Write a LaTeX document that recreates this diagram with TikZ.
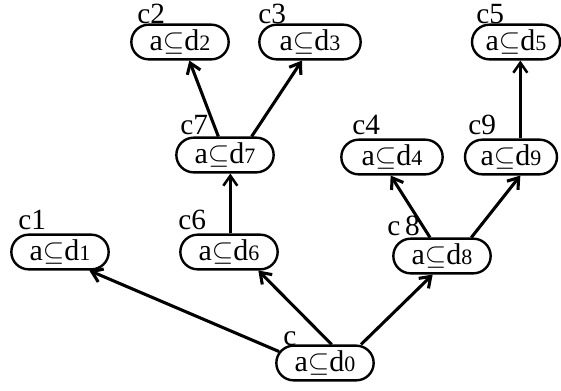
\documentclass[tikz,border=0pt]{standalone}
\usepackage{fontspec}
\setmainfont{Liberation Serif}
\usetikzlibrary{arrows.meta,shapes.misc,positioning}

\newcommand{\incl}[1]{a$\subseteq$d{\fontsize{16.5}{17}\selectfont #1}}

\begin{document}
\begin{tikzpicture}[x=0.75pt,y=-0.75pt,>={Straight Barb[length=7.5pt,width=10.5pt]}]
        \tikzstyle{cnode}=[draw,line width=1.8pt,rounded rectangle,minimum width=73pt,minimum height=26pt,inner sep=0pt,font=\fontsize{22.5}{24}\selectfont]
        \tikzstyle{lbl}=[anchor=base west,inner sep=0pt,font=\fontsize{22}{24}\selectfont]
        \tikzstyle{arr}=[->,line width=2.3pt]
        \useasboundingbox (0,0) rectangle (561,390);

        % Root
        \node[cnode] (c0) at (325,363) {\incl{0}};
        % Middle row
        \node[cnode] (c1) at (60,252) {\incl{1}};
        \node[cnode] (c6) at (229,252) {\incl{6}};
        \node[cnode] (c8) at (442,256) {\incl{8}};
        \node[cnode] (c7) at (225,155) {\incl{7}};
        \node[cnode,minimum width=76pt] (c4) at (392,157) {\incl{4}};
        \node[cnode,minimum width=69pt] (c9) at (511,157) {\incl{9}};
        % Top row
        \node[cnode] (c2) at (180,42) {\incl{2}};
        \node[cnode,minimum width=76pt] (c3) at (310,42) {\incl{3}};
        \node[cnode,minimum width=66pt] (c5) at (516,42) {\incl{5}};

        % Labels
        \node[lbl] (l0) at (283,345) {c};
        \node[lbl] (l1) at (18,229) {c1};
        \node[lbl] (l6) at (178,229) {c6};
        \node[lbl] (l8) at (387,235) {c\,8};
        \node[lbl] (l7) at (180,134) {c7};
        \node[lbl] (l4) at (352,134) {c4};
        \node[lbl] (l9) at (468,134) {c9};
        \node[lbl] (l2) at (137,23) {c2};
        \node[lbl] (l3) at (258,23) {c3};
        \node[lbl] (l5) at (476,23) {c5};

        % Edges
        \draw[arr] (c0.166) -- ([xshift=22pt]c1.south);
        \draw[arr] ([xshift=5pt]c0.north) -- ([xshift=22pt]c6.south);
        \draw[arr] ([xshift=27pt]c0.north) -- ([xshift=-7pt]c8.south);
        \draw[arr] ([xshift=-9pt]c8.north) -- ([xshift=-1pt]c4.south);
        \draw[arr] ([xshift=22pt]c8.north) -- ([xshift=7pt]c9.south);
        \draw[arr,line width=1.9pt] ([xshift=7pt]c9.north) -- ([xshift=7pt]c9.north |- c5.south);
        \draw[arr,line width=1.9pt] ([xshift=1pt]c6.north) -- ([xshift=1pt]c6.north |- c7.south);
        \draw[arr] ([xshift=-5pt]c7.north) -- ([xshift=7pt]c2.south);
        \draw[arr] ([xshift=20pt]c7.north) -- ([xshift=-6pt]c3.south);
\end{tikzpicture}
\end{document}
